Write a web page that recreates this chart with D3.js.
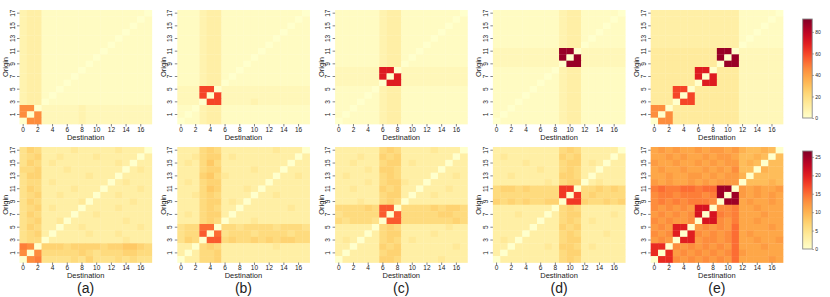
<!DOCTYPE html>
<html>
<head>
<meta charset="utf-8">
<script src="https://cdn.jsdelivr.net/npm/d3@7"></script>
<style>
body { margin: 0; background: #fff; }
text { font-family: "Liberation Sans", Arial, sans-serif; fill: #222; }
</style>
</head>
<body>
<svg id="chart" width="830" height="297"></svg>
<script>
// nodes 0..17, tick labels
var nodes = [0, 1, 2, 3, 4, 5, 6, 7, 8, 9, 10, 11, 12, 13, 14, 15, 16, 17];
var xTicks = [0, 2, 4, 6, 8, 10, 12, 14, 16];
var yTicks = [1, 3, 5, 7, 9, 11, 13, 15, 17];
var panelLabels = ["(a)", "(b)", "(c)", "(d)", "(e)"];
var topBarTicks = [0, 20, 40, 60, 80];
var bottomBarTicks = [0, 5, 10, 15, 20, 25];
var topMax = 92, bottomMax = 26.6;
// one char per cell, base 36; top row unit 2.5, bottom row unit 1
var topUnit = 2.5, bottomUnit = 1;

// rows listed from origin 17 (top) down to origin 0, dest 0..17 left to right
var topA = [
  "344111 111111 111110", "344111 111111 111101", "344111 111111 111011",
  "344111 111111 110111", "344111 111111 101111", "344111 111111 011111",
  "344111 111110 111111", "344111 111101 111111", "344111 111011 111111",
  "344111 110111 111111", "344111 101111 111111", "344111 011111 111111",
  "344110 111111 111111", "344101 111111 111111", "344011 111111 111111",
  "ii0222 223222 222222", "i0i222 223222 222222", "0ii222 223222 222222"];
var topB = [
  "111344 111111 111110", "111344 111111 111101", "111344 111111 111011",
  "111344 111111 110111", "111344 111111 101111", "111344 111111 011111",
  "111344 111110 111111", "111344 111101 111111", "111344 111011 111111",
  "111344 110111 111111", "111344 101111 111111", "111344 011111 111111",
  "222oo0 222222 222222", "222o0o 222222 222222", "2220oo 222232 222222",
  "110344 111111 111111", "101344 111111 111111", "011344 111111 111111"];
var topC = [
  "111111 344111 111110", "111111 344111 111101", "111111 344111 111011",
  "111111 344111 110111", "111111 344111 101111", "111111 344111 011111",
  "111111 344110 111111", "111111 344101 111111", "111111 344011 111111",
  "222222 ss0222 222222", "222222 s0s222 222222", "222222 0ss222 222222",
  "111110 344111 111111", "111101 344111 111111", "111011 344111 111111",
  "110111 344111 111111", "101111 344111 111111", "011111 344111 111111"];
var topD = [
  "111111 111344 111110", "111111 111344 111101", "111111 111344 111011",
  "111111 111344 110111", "111111 111344 101111", "111111 111344 011111",
  "222222 222zz0 222222", "222222 222z0z 222222", "222222 2220zz 222222",
  "111111 110344 111111", "111111 101344 111111", "111111 011344 111111",
  "111110 111344 111111", "111101 111344 111111", "111011 111344 111111",
  "110111 111344 111111", "101111 111344 111111", "011111 111344 111111"];
var topE = [
  "444444 444444 111110", "444444 444444 111101", "444444 444444 111011",
  "444444 444444 110111", "444444 444444 101111", "444444 444444 011111",
  "555555 555zz0 222222", "555555 555z0z 222222", "555555 5550zz 222222",
  "555555 ss0555 222222", "555555 s0s555 222222", "555555 0ss555 222222",
  "555oo0 555555 222222", "555o0o 555555 222222", "5550oo 555555 222222",
  "ii0555 555555 222222", "i0i555 555555 222222", "0ii555 555555 222222"];

var botA = [
  "576333 343333 343330", "567334 333343 333303", "576343 333333 343033",
  "667333 433333 330343", "577333 333433 303333", "566343 333333 034333",
  "576333 343330 333343", "567334 333303 343333", "576333 334033 333433",
  "567343 330333 343333", "576333 303343 333333", "567334 033333 334333",
  "576330 334333 333343", "567303 333433 343333", "566033 333333 334333",
  "ed0777 677776 778876", "d0d666 667656 667766", "0de555 565755 565655"];
var botB = [
  "333676 333333 343330", "334677 343333 333303", "343686 333333 333033",
  "333677 333343 330333", "333786 433333 303343", "343677 333333 033333",
  "333687 333430 333333", "334676 333303 343333", "333677 343033 333333",
  "333676 330333 333433", "343677 303333 333333", "333676 033343 333333",
  "566ff0 665666 656665", "566g0f 566656 666566", "5760gg 676676 767766",
  "330676 333333 343333", "303667 333333 333333", "033667 333333 333333"];
var botC = [
  "333333 676333 343330", "333433 767333 333303", "334333 677343 333033",
  "333343 776333 330333", "343333 676333 303343", "333343 677433 033333",
  "334333 767330 333433", "333333 677303 343333", "333433 676033 333333",
  "666676 gg0666 676776", "566666 g0g666 667766", "656665 0gg666 666676",
  "333330 676333 333433", "333303 677333 343333", "343033 676343 333333",
  "330333 767333 333343", "303333 677333 333333", "033333 776333 334333"];
var botD = [
  "333333 333676 333330", "343333 333767 333303", "333343 333677 343033",
  "333333 433676 330333", "334333 333776 303333", "333333 343677 034333",
  "677676 666ii0 667676", "666666 666i0i 676666", "767676 6770ii 766767",
  "333333 330676 333333", "333433 303677 333343", "333333 033676 343333",
  "333330 333767 333333", "333303 333676 333433", "343033 333677 333333",
  "330333 343776 343333", "303333 333677 333333", "033333 333676 333333"];
var botE = [
  "bcbcbb cbccbc a99a90", "bbcbcb bcbccb 99a909", "cbbcbb cbcbcc 9a9099",
  "bcbbcb bcbcbd 990a99", "bbcbbc cbcbcc a09999", "cbcbbc bcbccc 0999a9",
  "efeeff effpp0 cbcbbc", "deedee edep0p cbcbcb", "dedede eed0pp bcbbcb",
  "dcdcdc ll0dde bbcbbb", "cdcdcd l0lede bbbcbb", "dcdccd 0lldce bbcbbb",
  "cdckk0 cdcdcf bbbbcb", "dcdk0k dcdcdf bcbbbb", "cdc0kk cddcdf bbcbbc",
  "jj0dcd cdcdcf bbbcbb", "j0jcdc dcdcdf cbbbbb", "0jjdcd cdcdcf bbbbcb"];

var topRow = [topA, topB, topC, topD, topE];
var bottomRow = [botA, botB, botC, botD, botE];

var svg = d3.select("#chart");
var panelLeft = 19.5, panelPitch = 157.8, panelW = 132.3;

// turn the char rows into cells
function decode(rows, unit) {
  var cells = [];
  rows.forEach(function (row, i) {
    var origin = 17 - i;
    row.replace(/ /g, "").split("").forEach(function (ch, dest) {
      cells.push({ origin: origin, dest: dest, value: parseInt(ch, 36) * unit });
    });
  });
  return cells;
}

function drawHeat(rows, unit, color, L, T, H, label) {
  var g = svg.append("g");
  var x = d3.scaleBand().domain(nodes).range([L, L + panelW]);
  var y = d3.scaleBand().domain(nodes.slice().reverse()).range([T, T + H]);

  g.selectAll("rect")
    .data(decode(rows, unit))
    .enter().append("rect")
    .attr("x", function (d) { return x(d.dest); })
    .attr("y", function (d) { return y(d.origin); })
    .attr("width", x.bandwidth() + 0.35)
    .attr("height", y.bandwidth() + 0.35)
    .attr("fill", function (d) { return color(d.value); });

  var xAxis = g.append("g")
    .attr("transform", "translate(0," + (T + H) + ")")
    .call(d3.axisBottom(x).tickValues(xTicks).tickSize(2.5).tickPadding(0.8));
  var yAxis = g.append("g")
    .attr("transform", "translate(" + L + ",0)")
    .call(d3.axisLeft(y).tickValues(yTicks).tickSize(2.5));
  [xAxis, yAxis].forEach(function (a) {
    a.select(".domain").remove();
    a.selectAll("line").attr("stroke", "#333").attr("stroke-width", 0.6);
    a.selectAll("text").style("font-size", "6.5px").attr("fill", "#222");
  });
  yAxis.selectAll("text")
    .attr("transform", "rotate(-90)")
    .attr("x", 0).attr("y", -7.2).attr("dy", "0.35em")
    .attr("text-anchor", "middle");

  g.append("text")
    .attr("x", L + panelW / 2).attr("y", T + H + 13.2).attr("dy", "0.35em")
    .attr("text-anchor", "middle").attr("fill", "#222").style("font-size", "7.5px")
    .text("Destination");
  g.append("text")
    .attr("transform", "translate(" + (L - 14.2) + "," + (T + H / 2) + ") rotate(-90)")
    .attr("dy", "0.35em").attr("text-anchor", "middle")
    .attr("fill", "#222").style("font-size", "7.5px")
    .text("Origin");

  if (label) {
    g.append("text")
      .attr("x", L + panelW / 2).attr("y", 288.3).attr("dy", "0.35em")
      .attr("text-anchor", "middle").attr("fill", "#222").style("font-size", "14px")
      .text(label);
  }
}

function drawColorbar(id, max, ticks, x0, top, bottom) {
  var grad = svg.append("defs").append("linearGradient")
    .attr("id", id).attr("x1", 0).attr("y1", 1).attr("x2", 0).attr("y2", 0);
  d3.range(0, 1.0001, 0.05).forEach(function (t) {
    grad.append("stop").attr("offset", t).attr("stop-color", d3.interpolateYlOrRd(t));
  });
  var w = 9.5;
  svg.append("rect")
    .attr("x", x0).attr("y", top).attr("width", w).attr("height", bottom - top)
    .attr("fill", "url(#" + id + ")")
    .attr("stroke", "#8a8a8a").attr("stroke-width", 0.9);
  var s = d3.scaleLinear().domain([0, max]).range([bottom, top]);
  var ax = svg.append("g")
    .attr("transform", "translate(" + (x0 + w) + ",0)")
    .call(d3.axisRight(s).tickValues(ticks).tickSize(1.8).tickPadding(1.2));
  ax.select(".domain").remove();
  ax.selectAll("line").attr("stroke", "#555").attr("stroke-width", 0.5);
  ax.selectAll("text").style("font-size", "5px").attr("fill", "#333");
}

var topColor = d3.scaleSequential(d3.interpolateYlOrRd).domain([0, topMax]);
var bottomColor = d3.scaleSequential(d3.interpolateYlOrRd).domain([0, bottomMax]);

for (var i = 0; i < 5; i++) {
  var L = panelLeft + panelPitch * i;
  drawHeat(topRow[i], topUnit, topColor, L, 10, 114, null);
  drawHeat(bottomRow[i], bottomUnit, bottomColor, L, 147, 115.5, panelLabels[i]);
}

drawColorbar("gradTop", topMax, topBarTicks, 802.7, 19, 118);
drawColorbar("gradBottom", bottomMax, bottomBarTicks, 802.7, 151, 249);
</script>
</body>
</html>
